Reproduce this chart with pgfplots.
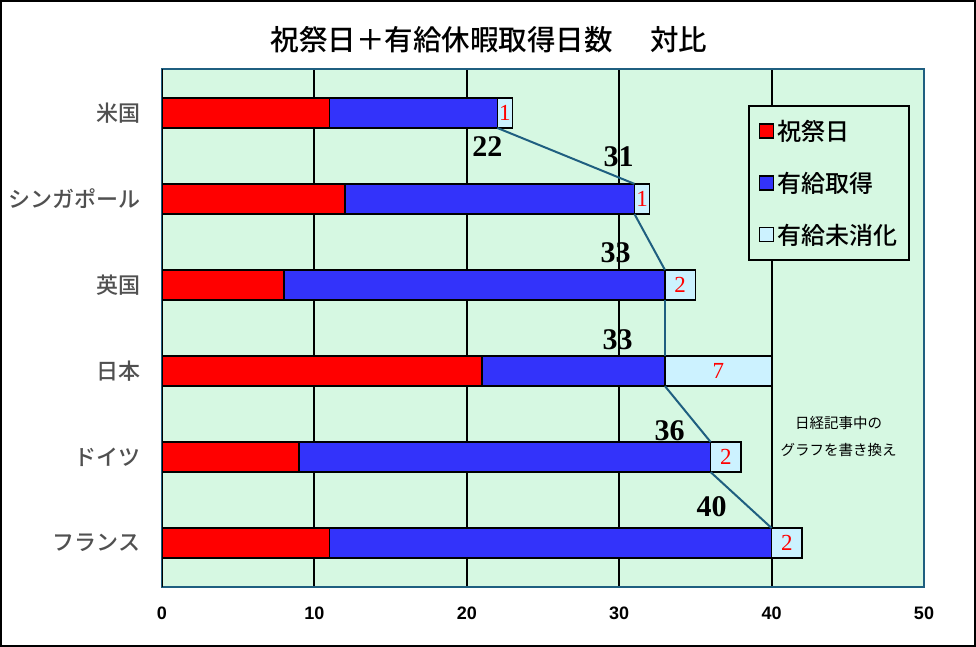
\documentclass[border=0pt]{standalone}
\usepackage{pgfplots}
\pgfplotsset{compat=1.18}
\usepackage{fontspec}
\setmainfont{Liberation Sans}
\newfontfamily\jp{Noto Sans CJK JP}
\newfontfamily\jpm{Noto Sans CJK JP Medium}
\newfontfamily\tms{Liberation Serif}
\definecolor{mint}{RGB}{214,248,226}
\definecolor{barblue}{RGB}{51,51,250}
\definecolor{lightb}{RGB}{204,242,255}
\definecolor{teal2}{RGB}{31,95,128}
\definecolor{labgray}{RGB}{80,80,80}
\pgfplotsset{
  commonax/.style={
    at={(162bp,60bp)}, anchor=south west,
    scale only axis, width=762bp, height=518bp,
    xmin=0, xmax=50, ymin=-0.51, ymax=5.51, y dir=reverse,
  }
}
\begin{document}
\begin{tikzpicture}
\draw[line width=2bp] (1bp,1bp) rectangle (975bp,646bp);
\node[font=\jpm\fontsize{28.5bp}{30bp}\selectfont] at (489bp,607bp) {祝祭日＋有給休暇取得日数\hspace{1.3em}対比};
\begin{axis}[commonax,
  xbar stacked, bar width=0.35,
  xtick={0,10,...,50}, ytick={0,...,5},
  yticklabels={米国,シンガポール,英国,日本,ドイツ,フランス},
  yticklabel style={font=\jpm\fontsize{22bp}{24bp}\selectfont, text=labgray, xshift=-18bp},
  xticklabel style={font=\bfseries\fontsize{18bp}{20bp}\selectfont, yshift=-16bp},
  /pgf/number format/assume math mode=true,
  major tick length=0pt,
  xmajorgrids, grid style={black, line width=2bp},
  axis background/.style={fill=mint},
  axis line style={draw=teal2, line width=2bp},
  legend style={at={(0.769,0.930)}, anchor=north west, draw=black, line width=2bp, fill=mint,
    font=\jpm\fontsize{24bp}{26bp}\selectfont, row sep=26bp, inner xsep=10bp, inner ysep=12bp},
  legend cell align=left,
  legend image code/.code={\draw[#1, draw=black, line width=1.5bp] (0bp,-7bp) rectangle (14bp,7bp); \path (15bp,0bp);},
]
\addplot[fill=red, draw=black, line width=1.5bp] coordinates {(11,0) (12,1) (8,2) (21,3) (9,4) (11,5)};
\addplot[fill=barblue, draw=black, line width=1.5bp] coordinates {(11,0) (19,1) (25,2) (12,3) (27,4) (29,5)};
\addplot[fill=lightb, draw=black, line width=1.5bp] coordinates {(1,0) (1,1) (2,2) (7,3) (2,4) (2,5)};
\legend{祝祭日,有給取得,有給未消化}
\draw[black, line width=2bp] (rel axis cs:0,0) -- (rel axis cs:0,1);
\end{axis}
\begin{axis}[commonax, hide axis, clip=false]
\addplot[teal2, line width=2bp] coordinates {(22,0.175) (31,0.825)};
\addplot[teal2, line width=2bp] coordinates {(31,1.175) (33,1.825)};
\addplot[teal2, line width=2bp] coordinates {(33,2.175) (33,2.825)};
\addplot[teal2, line width=2bp] coordinates {(33,3.175) (36,3.825)};
\addplot[teal2, line width=2bp] coordinates {(36,4.175) (40,4.825)};
\addplot[only marks, mark=none, nodes near coords, point meta=explicit symbolic,
  nodes near coords style={anchor=center, font=\tms\bfseries\fontsize{30bp}{32bp}\selectfont, text=black}]
  coordinates {(21.35,0.395) [22] (29.96,0.51) [31] (29.76,1.63) [33] (29.9,2.64) [33] (33.3,3.69) [36] (36.07,4.58) [40]};
\addplot[only marks, mark=none, nodes near coords, point meta=explicit symbolic,
  nodes near coords style={anchor=center, font=\tms\fontsize{23bp}{25bp}\selectfont, text=red}]
  coordinates {(22.5,0) [1] (31.5,1) [1] (34,2) [2] (36.5,3) [7] (37,4) [2] (41,5) [2]};
\addplot[only marks, mark=none, nodes near coords, point meta=explicit symbolic,
  nodes near coords style={anchor=center, font=\jp\fontsize{14.5bp}{16bp}\selectfont, text=black}]
  coordinates {(44.4,3.60) [日経記事中の] (44.4,3.92) [グラフを書き換え]};
\end{axis}
\end{tikzpicture}
\end{document}
